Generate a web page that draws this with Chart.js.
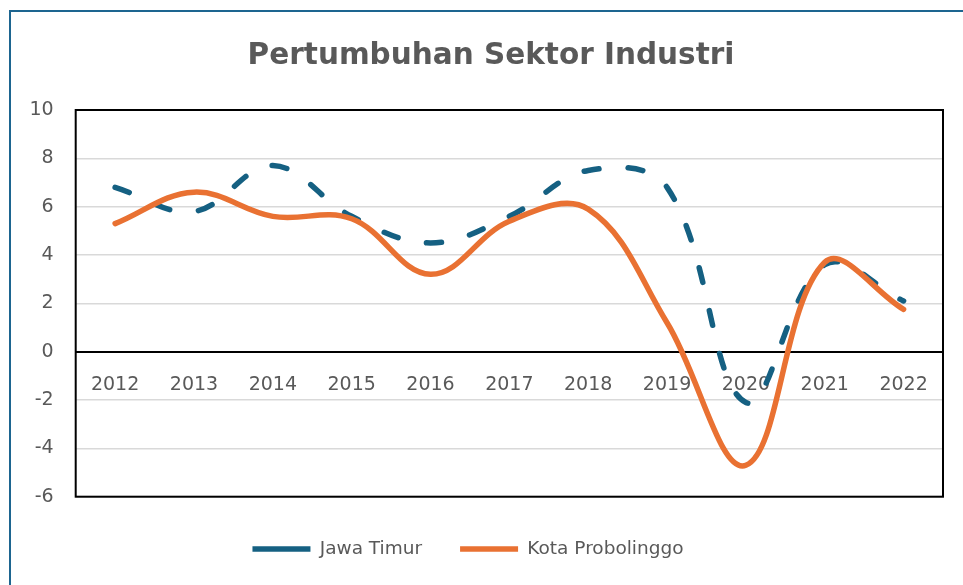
<!DOCTYPE html>
<html>
<head>
<meta charset="utf-8">
<title>Pertumbuhan Sektor Industri</title>
<script src="https://cdn.jsdelivr.net/npm/chart.js@4.4.1/dist/chart.umd.min.js"></script>
<style>
  html, body { margin: 0; padding: 0; background: #fff; }
  #wrap { position: relative; width: 963px; height: 585px; }
</style>
</head>
<body>
<div id="wrap"><canvas id="chart"></canvas></div>
<script>
// data
const years = ['2012', '2013', '2014', '2015', '2016', '2017', '2018', '2019', '2020', '2021', '2022'];
const jawaTimur = [6.8, 5.8, 7.7, 5.6, 4.5, 5.6, 7.5, 6.8, -2.1, 3.6, 2.1];
const kotaProbolinggo = [5.3, 6.6, 5.6, 5.5, 3.2, 5.4, 5.9, 1.2, -4.7, 3.7, 1.75];
const yTicks = { min: -6, max: 10, step: 2 };

const gray = '#595959';
const blue = '#156082';
const orange = '#E97132';

Chart.defaults.font.family = "'DejaVu Sans', sans-serif";
Chart.defaults.color = gray;

// black plot frame + blue outer border; nudge title and legend sideways
const framePlugin = {
  id: 'frame',
  afterLayout(chart) {
    const t = chart.titleBlock;
    t.left += 9.5; t.right += 9.5;
    const lg = chart.legend;
    lg.left -= 13.5; lg.right -= 13.5;
    lg.top += 5; lg.bottom += 5;
  },
  afterDraw(chart) {
    const { ctx, chartArea: a } = chart;
    ctx.save();
    ctx.strokeStyle = '#000';
    ctx.lineWidth = 2;
    ctx.strokeRect(a.left, a.top, a.right - a.left, a.bottom - a.top);
    ctx.strokeStyle = '#1d6590';
    ctx.beginPath();
    ctx.moveTo(10, 585); ctx.lineTo(10, 11); ctx.lineTo(963, 11);
    ctx.stroke();
    ctx.restore();
  }
};

new Chart(document.getElementById('chart'), {
  type: 'line',
  data: {
    labels: years,
    datasets: [
      {
        label: 'Jawa Timur',
        data: jawaTimur,
        borderColor: blue,
        backgroundColor: blue,
        borderWidth: 5.5,
        borderDash: [15, 29],
        borderCapStyle: 'round',
        pointRadius: 0, pointHoverRadius: 0,
        pointStyle: 'line',
        tension: 0.38,
        fill: false,
        order: 1
      },
      {
        label: 'Kota Probolinggo',
        data: kotaProbolinggo,
        borderColor: orange,
        backgroundColor: orange,
        borderWidth: 5.5,
        borderCapStyle: 'round',
        pointRadius: 0, pointHoverRadius: 0,
        pointStyle: 'line',
        tension: 0.38,
        fill: false,
        order: 0
      }
    ]
  },
  options: {
    responsive: true,
    maintainAspectRatio: false,
    animation: false,
    layout: { padding: { top: 12, left: 20, right: 20, bottom: 21.8 } },
    plugins: {
      title: {
        display: true,
        text: 'Pertumbuhan Sektor Industri',
        color: gray,
        font: { size: 29.5, weight: 'bold' },
        padding: { top: 27, bottom: 35.6 }
      },
      legend: {
        position: 'bottom',
        labels: {
          usePointStyle: true,
          pointStyleWidth: 58,
          padding: 38,
          color: gray,
          font: { size: 18.5 },
          sort: (a, b) => a.datasetIndex - b.datasetIndex
        }
      },
      tooltip: { enabled: false }
    },
    scales: {
      x: {
        type: 'category',
        position: { y: 0 },
        offset: true,
        grid: { display: false },
        border: { display: true, color: '#000', width: 2 },
        ticks: { padding: 14, color: gray, font: { size: 19 }, maxRotation: 0 }
      },
      y: {
        min: yTicks.min,
        max: yTicks.max,
        afterFit(s) { s.width = 55.7; },
        grid: { color: '#d9d9d9', lineWidth: 1.5, drawTicks: false },
        border: { display: false },
        ticks: { stepSize: yTicks.step, padding: 22, color: gray, font: { size: 19 } }
      }
    }
  },
  plugins: [framePlugin]
});
</script>
</body>
</html>
